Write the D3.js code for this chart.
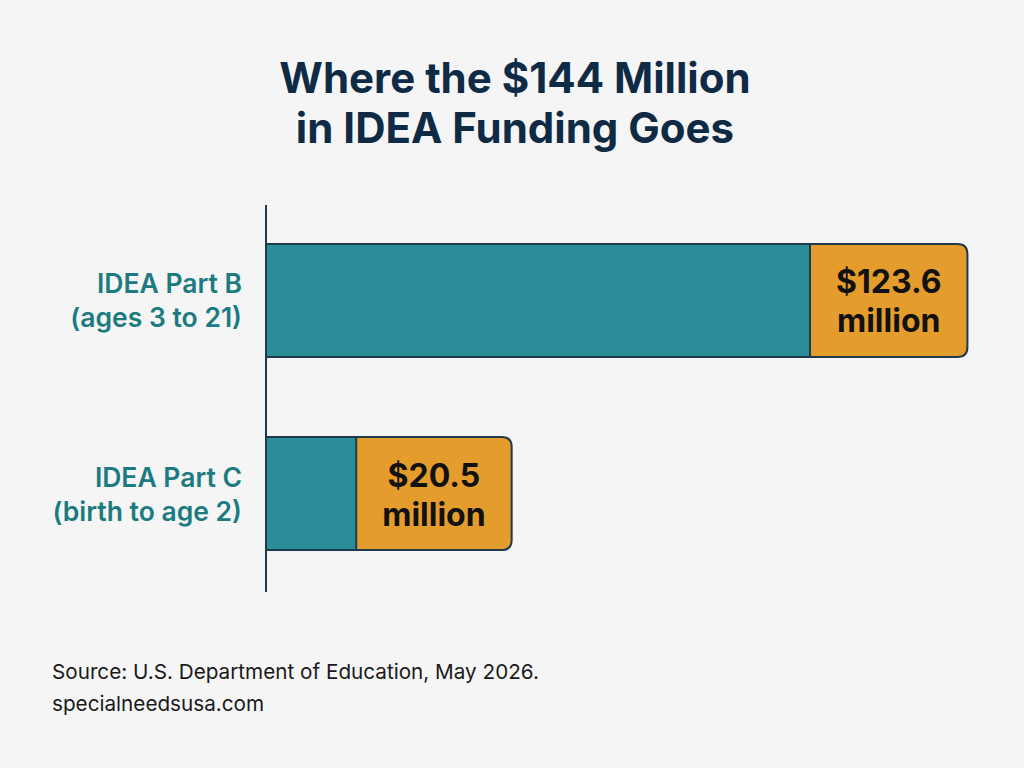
<!DOCTYPE html>
<html><head><meta charset="utf-8">
<script src="https://cdn.jsdelivr.net/npm/d3@7"></script>
<style>body{margin:0;background:#f5f5f5;}svg{display:block;}</style>
</head><body>
<script>
const categories = ["IDEA Part B", "IDEA Part C"];
const subLabels = ["(ages 3 to 21)", "(birth to age 2)"];
const values = [123.6, 20.5];
const valueLabels = ["$123.6", "$20.5"];
const unitLabel = "million";
const titleLines = ["Where the $144 Million", "in IDEA Funding Goes"];
const sourceLines = ["Source: U.S. Department of Education, May 2026.", "specialneedsusa.com"];

const W = 1024, H = 768;
const svg = d3.select("body").append("svg").attr("width", W).attr("height", H);
svg.append("rect").attr("width", W).attr("height", H).attr("fill", "#f5f5f5");

const font = "Inter, 'Open Sans', 'DejaVu Sans', sans-serif";
const navy = "#0e2a45", teal = "#2a8d98", orange = "#e49c2c", outline = "#1f3a4c", labelTeal = "#1b7b80";

// Title
svg.append("g").selectAll("text").data(titleLines).join("text")
  .attr("x", 515).attr("y", (d, i) => 93 + i * 50)
  .attr("text-anchor", "middle").attr("font-family", font).attr("font-weight", 700)
  .attr("font-size", 42).attr("fill", navy).text(d => d);

const x0 = 266;
const x = d3.scaleLinear().domain([0, 123.6]).range([x0, 810]);
const y = d3.scaleBand().domain(categories).range([224, 570]).paddingInner(0.4145).paddingOuter(0.1036);

const g = svg.append("g");
categories.forEach((c, i) => {
  const yy = y(c), bh = y.bandwidth(), cy = yy + bh / 2;
  const xe = x(values[i]);
  const grp = g.append("g");
  const t1 = grp.append("text").attr("y", cy - 7).attr("text-anchor", "middle")
    .attr("font-family", font).attr("font-weight", 700).attr("font-size", 32).attr("fill", "#111")
    .text(valueLabels[i]);
  const t2 = grp.append("text").attr("y", cy + 32).attr("text-anchor", "middle")
    .attr("font-family", font).attr("font-weight", 700).attr("font-size", 32).attr("fill", "#111")
    .text(unitLabel);
  const tw = Math.max(t1.node().getComputedTextLength(), t2.node().getComputedTextLength());
  const boxW = tw + 52;
  const r = 10, x1 = xe + boxW;
  const path = `M${x0},${yy} H${x1 - r} Q${x1},${yy} ${x1},${yy + r} V${yy + bh - r} Q${x1},${yy + bh} ${x1 - r},${yy + bh} H${x0} Z`;
  grp.insert("rect", "text").attr("x", x0).attr("y", yy).attr("width", xe - x0).attr("height", bh)
    .attr("fill", teal).attr("stroke", outline).attr("stroke-width", 2);
  grp.insert("path", "rect").attr("d", path).attr("fill", orange).attr("stroke", outline).attr("stroke-width", 2);
  const cx = xe + boxW / 2;
  t1.attr("x", cx); t2.attr("x", cx);
  // category labels
  g.append("text").attr("x", 242).attr("y", cy - 7).attr("text-anchor", "end")
    .attr("font-family", font).attr("font-weight", 600).attr("font-size", 26.5).attr("fill", labelTeal)
    .text(c);
  g.append("text").attr("x", 242).attr("y", cy + 27).attr("text-anchor", "end")
    .attr("font-family", font).attr("font-weight", 600).attr("font-size", 26.5).attr("fill", labelTeal)
    .text(subLabels[i]);
});

// axis line
svg.append("line").attr("x1", x0).attr("x2", x0).attr("y1", 205).attr("y2", 592)
  .attr("stroke", outline).attr("stroke-width", 2);

// source
svg.append("g").selectAll("text").data(sourceLines).join("text")
  .attr("x", 52).attr("y", (d, i) => 679 + i * 32)
  .attr("font-family", font).attr("font-size", 20.7).attr("fill", "#1a1a1a").text(d => d);
</script>
</body></html>
